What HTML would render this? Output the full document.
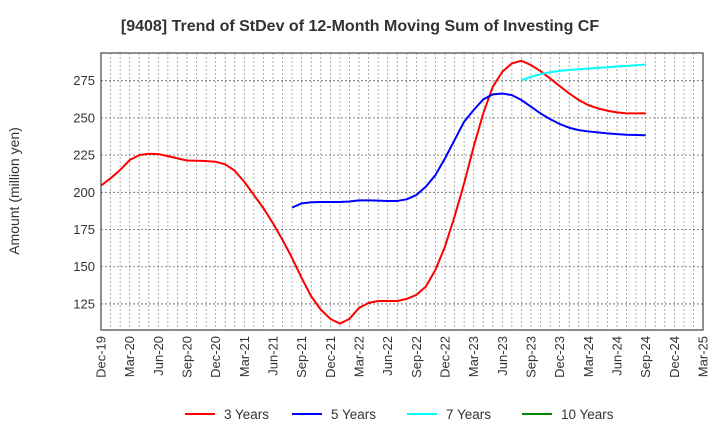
<!DOCTYPE html>
<html><head><meta charset="utf-8"><style>
body{margin:0;background:#fff;font-family:"Liberation Sans",sans-serif}
svg text{font-family:"Liberation Sans",sans-serif;fill:#333}
</style></head><body>
<svg id="c" width="720" height="440" xmlns="http://www.w3.org/2000/svg">
<text x="360" y="31" text-anchor="middle" font-size="16" font-weight="bold">[9408]  Trend of StDev of 12-Month Moving Sum of Investing CF</text>
<text transform="translate(19,191) rotate(-90)" text-anchor="middle" font-size="14">Amount (million yen)</text>
<g id="grid"></g><g id="axes"></g><g id="series"></g>
<rect x="101" y="53" width="602" height="277" fill="none" stroke="#444" stroke-width="1.2"/>
<g id="legend"></g>
</svg>
<script>
const xLabels=["Dec-19","Mar-20","Jun-20","Sep-20","Dec-20","Mar-21","Jun-21","Sep-21","Dec-21","Mar-22","Jun-22","Sep-22","Dec-22","Mar-23","Jun-23","Sep-23","Dec-23","Mar-24","Jun-24","Sep-24","Dec-24","Mar-25"];
const yTicks=[125,150,175,200,225,250,275];
const s3=[204.5,209.4,215,221.7,225,225.9,225.7,224.3,222.8,221.4,221.2,221,220.5,218.8,214.5,207,198.2,189.3,179.2,168,155.8,142.4,130.1,121.2,115,111.8,115,122.3,125.7,127,127,127,128.4,131.1,136.7,147.9,163.6,183.7,206,230.6,253,270.9,281,286.6,288.4,285.5,281.4,276.5,271.4,266.4,262,258.6,256.4,254.8,253.7,253,253,253];
const s3Start=0;
const s5=[189.7,192.6,193.3,193.5,193.5,193.5,193.8,194.6,194.6,194.4,194.2,194.2,195.3,198.2,203.8,211.6,222.8,235.1,247.4,255.3,262.4,265.8,266.4,265.3,262,257.5,253,249.2,245.9,243.4,241.8,240.9,240.3,239.6,239.1,238.7,238.5,238.3];
const s5Start=20;
const s7=[275.3,277.6,279.4,280.7,281.6,282.3,282.7,283.1,283.6,284,284.5,284.9,285.4,285.8];
const s7Start=44;
const s10=[];
const s10Start=0;
const L=101,R=703,T=53,B=330,NM=63,YMIN=107.5,YMAX=293.6;
const xS=m=>L+m*(R-L)/NM;
const yS=v=>B-(v-YMIN)*(B-T)/(YMAX-YMIN);
const NS="http://www.w3.org/2000/svg";
function mk(t,a,p){const e=document.createElementNS(NS,t);for(const k in a)e.setAttribute(k,a[k]);p.appendChild(e);return e;}
const grid=document.getElementById('grid'),axes=document.getElementById('axes'),ser=document.getElementById('series'),leg=document.getElementById('legend');
for(let m=1;m<NM;m++){const l=mk('line',{x1:xS(m),x2:xS(m),y1:T,y2:B,stroke:'#999','stroke-width':0.8,'stroke-dasharray':'2,2'},grid);

}
yTicks.forEach(v=>{const l=mk('line',{x1:L,x2:R,y1:yS(v),y2:yS(v),stroke:'#666','stroke-width':0.8,'stroke-dasharray':'2,2'},grid);


const t=mk('text',{x:L-6,y:yS(v)+4.5,'text-anchor':'end','font-size':13},axes);t.textContent=v;

});
xLabels.forEach((s,i)=>{const x=xS(i*3);const t=mk('text',{transform:`translate(${x+4.5},336) rotate(-90)`,'text-anchor':'end','font-size':13},axes);t.textContent=s;

});
function line(d,st,c,n){if(!d.length)return;const p=mk('polyline',{points:d.map((v,i)=>xS(st+i)+','+yS(v)).join(' '),fill:'none',stroke:c,'stroke-width':2,'stroke-linejoin':'round'},ser);

}
line(s3,s3Start,'#f00','line-3-years');
line(s5,s5Start,'#00f','line-5-years');
line(s7,s7Start,'#0ff','line-7-years');
line(s10,s10Start,'#080','line-10-years');
[['3 Years','#f00',185],['5 Years','#00f',292],['7 Years','#0ff',407],['10 Years','#080',522]].forEach(([n,c,x])=>{
const g=mk('g',{},leg);


mk('line',{x1:x,x2:x+30,y1:414,y2:414,stroke:c,'stroke-width':2},g);
const t=mk('text',{x:x+39,y:419,'font-size':13.5},g);t.textContent=n;});
</script>
</body></html>
